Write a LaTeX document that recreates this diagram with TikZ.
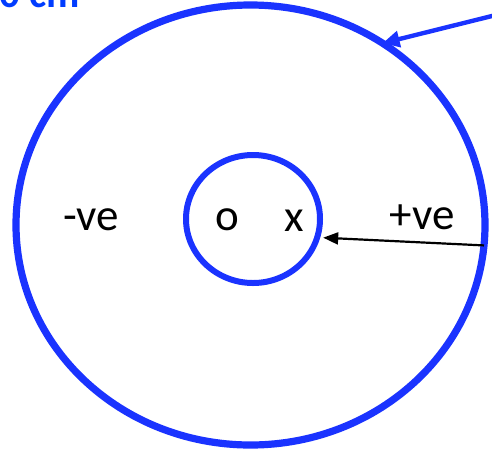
\documentclass[tikz,border=0pt]{standalone}
\usepackage{fontspec}
\setmainfont{Carlito}
\usetikzlibrary{shapes.geometric,arrows.meta}
\definecolor{ringblue}{RGB}{26,51,255}
\definecolor{labelblue}{RGB}{0,60,255}
\tikzset{
	ring/.style={ellipse, draw=ringblue, inner sep=0pt, outer sep=0pt},
	charge/.style={font=\fontsize{22.5}{27}\selectfont, inner sep=0pt},
}
\begin{document}
\begin{tikzpicture}[x=0.5pt,y=-0.5pt]
		\useasboundingbox (0,0) rectangle (492,451);
		\clip (0,0) rectangle (492,451);
		% the two rings
		\node[ring, line width=3.6pt, minimum width=234.5pt, minimum height=220pt] (outer) at (250.5,225) {};
		\node[ring, line width=3pt, minimum width=67pt, minimum height=64pt] (inner) at (253,219) {};
		% labels
		\node[charge] (origin) at (227,220) {o};
		\node[charge] (point) at (294,221) {x};
		\node[charge] (minus) at (91,220) {-ve};
		\node[charge] (plus) at (422,217) {+ve};
		\node[anchor=base east, inner sep=0pt, text=labelblue, font=\bfseries\fontsize{20.5}{24}\selectfont] (size) at (80,7) {0 cm};
		% arrows
		\coordinate (pointer) at (500,14);
		\draw[ringblue, line width=2.2pt, -{Triangle[length=8.5pt,width=8pt]}] (pointer) -- (outer.54);
		\draw[line width=1.1pt, shorten >=3pt, -{Triangle[length=7.5pt,width=6pt]}] (outer.-5) -- (inner.-16);
	\end{tikzpicture}
\end{document}
